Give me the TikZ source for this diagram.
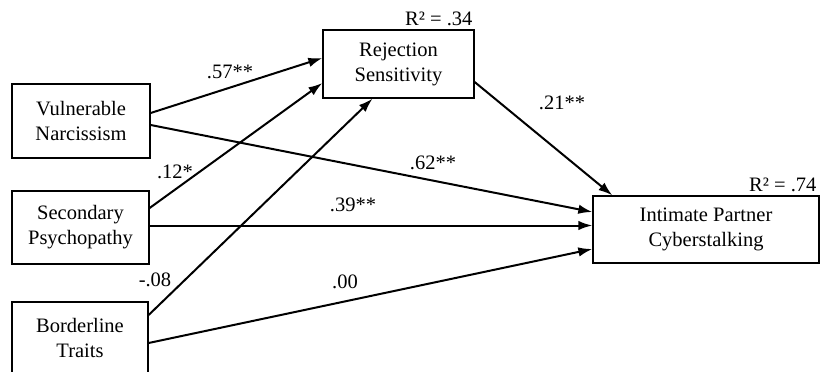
\documentclass[tikz,border=0pt]{standalone}
\usepackage{fontspec}
\setmainfont{Liberation Serif}
\usetikzlibrary{arrows.meta,positioning}

\begin{document}
\begin{tikzpicture}[x=1pt,y=-1pt,
    var/.style={draw,line width=1.3pt,align=center,inner sep=0pt,
      font=\fontsize{20.5}{25}\selectfont},
    arr/.style={line width=2pt,-{Latex[length=14pt,width=9.5pt]}},
    coef/.style={font=\fontsize{20.5}{25}\selectfont,inner sep=0pt}]
  \clip (0,0) rectangle (822,372);
  % predictors
  \node[var,minimum width=138pt,minimum height=74pt] (vn) at (81,121)
    {Vulnerable\\Narcissism};
  \node[var,minimum width=137pt,minimum height=73pt] (sp) at (80.5,227.5)
    {Secondary\\Psychopathy};
  \node[var,minimum width=136pt,minimum height=72pt] (bt) at (80,338)
    {Borderline\\Traits};
  % mediator and outcome
  \node[var,minimum width=151pt,minimum height=68pt] (rs) at (398.5,64)
    {Rejection\\Sensitivity};
  \node[var,minimum width=226pt,minimum height=67pt] (ipc) at (706,229.5)
    {Intimate Partner\\Cyberstalking};
  \node[coef,above left=3pt and 2pt of rs.north east] (r2rs) {R² = .34};
  \node[coef,above left=3pt and 3pt of ipc.north east] (r2ipc) {R² = .74};

  \draw[arr] ([yshift=8pt]vn.east) -- ([yshift=6pt]rs.west);
  \draw[arr] ([yshift=19.5pt]sp.east) -- ([yshift=-19pt]rs.west);
  \draw[arr] ([yshift=23pt]bt.east) -- ([xshift=-26pt]rs.south);
  \draw[arr] ([yshift=-4pt]vn.east) -- ([yshift=17.5pt]ipc.west);
  \draw[arr] ([yshift=2pt]sp.east) -- ([yshift=2pt]sp.east -| ipc.west);
  \draw[arr] ([yshift=-5pt]bt.east) -- ([yshift=-19.5pt]ipc.west);
  \draw[arr] ([yshift=-18pt]rs.east) -- ([xshift=20pt]ipc.north west);

  % path coefficients
  \node[coef] (c1) at (230,72) {.57**};
  \node[coef] (c2) at (175,172) {.12*};
  \node[coef] (c3) at (155,280) {-.08};
  \node[coef] (c4) at (433,163) {.62**};
  \node[coef] (c5) at (353,205) {.39**};
  \node[coef] (c6) at (345,282) {.00};
  \node[coef] (c7) at (562,103) {.21**};
\end{tikzpicture}
\end{document}
